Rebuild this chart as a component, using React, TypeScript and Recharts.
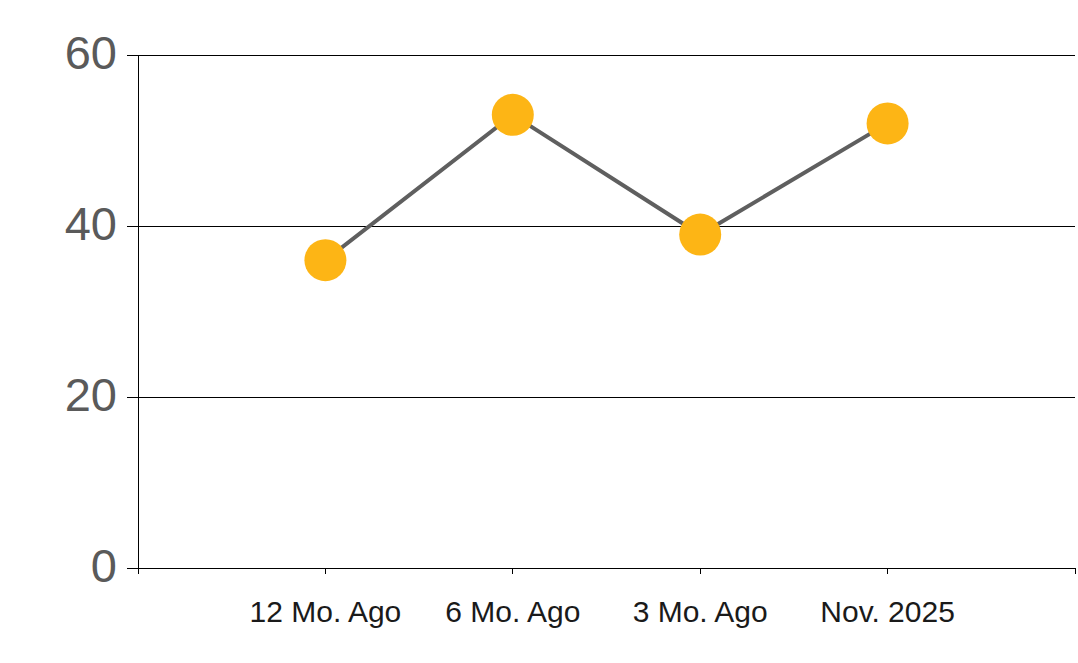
import { LineChart, Line, XAxis, YAxis, CartesianGrid } from "recharts";

const categories = ["12 Mo. Ago", "6 Mo. Ago", "3 Mo. Ago", "Nov. 2025"];
const values = [36, 53, 39, 52];
const yTicks = [0, 20, 40, 60];
// x positions are slots 1..4 on a 0..5 axis, leaving a blank slot at each end
const xTicks = [0, 1, 2, 3, 4, 5];

const data = categories.map((name, i) => ({ pos: i + 1, name, value: values[i] }));

const FONT = '"Liberation Sans", Arial, sans-serif';

export default function App() {
  return (
    <div style={{ position: "absolute", left: 0, top: 0, background: "#fff" }}>
      <style>{".recharts-wrapper line{shape-rendering:crispEdges}"}</style>
      <LineChart
        width={1078}
        height={663}
        data={data}
        margin={{ top: 55, right: 3, left: 0, bottom: 0 }}
      >
        <CartesianGrid vertical={false} stroke="#000" strokeWidth={1} />
        <XAxis
          dataKey="pos"
          type="number"
          domain={[0, 5]}
          ticks={xTicks}
          interval={0}
          height={95}
          tickFormatter={(v: number) => (v >= 1 && v <= 4 ? categories[v - 1] : "")}
          tick={{ fontSize: 30, fill: "#1a1a1a", fontFamily: FONT }}
          tickSize={6}
          tickMargin={27}
          tickLine={{ stroke: "#000" }}
          axisLine={{ stroke: "#000" }}
        />
        <YAxis
          width={138}
          domain={[0, 60]}
          ticks={yTicks}
          interval={0}
          tick={{ fontSize: 47, fill: "#5a5a5a", fontFamily: FONT, dy: -3 }}
          tickSize={11}
          tickMargin={10}
          tickLine={{ stroke: "#000" }}
          axisLine={{ stroke: "#000" }}
        />
        <Line
          type="linear"
          dataKey="value"
          stroke="#5f5f5f"
          strokeWidth={4}
          dot={{ r: 21, fill: "#FDB515", stroke: "none" }}
          activeDot={false}
          isAnimationActive={false}
        />
      </LineChart>
    </div>
  );
}
